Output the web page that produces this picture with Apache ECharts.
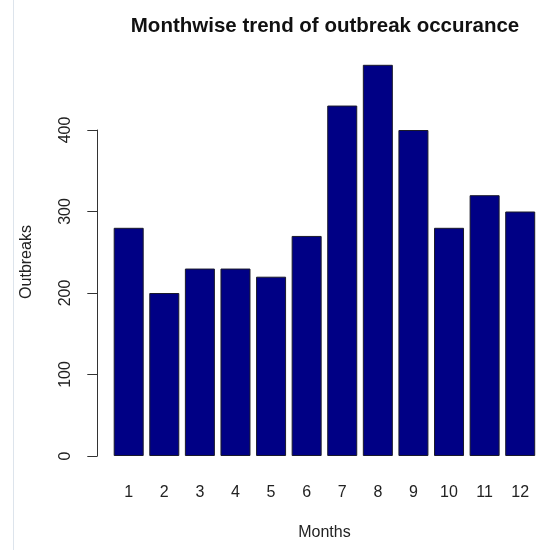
<!DOCTYPE html>
<html>
<head>
<meta charset="utf-8">
<script src="https://cdn.jsdelivr.net/npm/echarts@6/dist/echarts.min.js"></script>
<style>
html,body{margin:0;padding:0;background:#fff;}
#chart{width:538px;height:550px;position:relative;}
#edge{position:absolute;left:13px;top:0;width:1px;height:550px;background:#dde4ec;z-index:5;}
</style>
</head>
<body>
<div id="chart"></div>
<div id="edge"></div>
<script>
const months = ['1','2','3','4','5','6','7','8','9','10','11','12'];
const outbreaks = [280, 200, 230, 230, 220, 270, 430, 480, 400, 280, 320, 300];
const yTicks = [0, 100, 200, 300, 400];
const titleText = 'Monthwise trend of outbreak occurance';
const xName = 'Months';
const yName = 'Outbreaks';

const FONT = '"Liberation Sans", Arial, sans-serif';
const chart = echarts.init(document.getElementById('chart'), null, {renderer: 'canvas'});

chart.setOption({
  backgroundColor: '#ffffff',
  animation: false,
  title: {
    text: titleText,
    left: 320,
    textAlign: 'center',
    top: 11,
    textStyle: {fontFamily: FONT, fontWeight: 'bold', fontSize: 20.5, color: '#111'}
  },
  grid: [
    {left: 110.9, right: -2.5, top: 48.5, bottom: 94},
    {left: 97.3, width: 1, top: 130, bottom: 94}
  ],
  xAxis: [
    {
      gridIndex: 0,
      type: 'category',
      data: months,
      name: xName,
      nameLocation: 'middle',
      nameGap: 69,
      nameTextStyle: {fontFamily: FONT, fontSize: 16, color: '#222'},
      axisLine: {show: false},
      axisTick: {show: false},
      axisLabel: {fontFamily: FONT, fontSize: 16, color: '#222', margin: 29, interval: 0}
    },
    {gridIndex: 1, type: 'value', show: false, min: 0, max: 1}
  ],
  yAxis: [
    {gridIndex: 0, type: 'value', min: 0, max: 500, show: false},
    {
      gridIndex: 1,
      type: 'value',
      min: yTicks[0],
      max: yTicks[yTicks.length - 1],
      interval: yTicks[1] - yTicks[0],
      axisLine: {show: true, lineStyle: {color: '#333', width: 1}},
      axisTick: {show: true, length: 10, lineStyle: {color: '#333', width: 1}},
      axisLabel: {fontFamily: FONT, fontSize: 16, color: '#222', rotate: 90, margin: 24},
      splitLine: {show: false}
    }
  ],
  graphic: [
    {
      type: 'text',
      x: 27,
      y: 262,
      rotation: Math.PI / 2,
      style: {text: yName, fontFamily: FONT, fontSize: 16, fill: '#222', textAlign: 'center', textVerticalAlign: 'middle'}
    }
  ],
  series: [
    {
      type: 'bar',
      xAxisIndex: 0,
      yAxisIndex: 0,
      data: outbreaks,
      barWidth: 30,
      itemStyle: {color: '#000085', borderColor: '#1a1a2a', borderWidth: 1}
    }
  ]
});
</script>
</body>
</html>
